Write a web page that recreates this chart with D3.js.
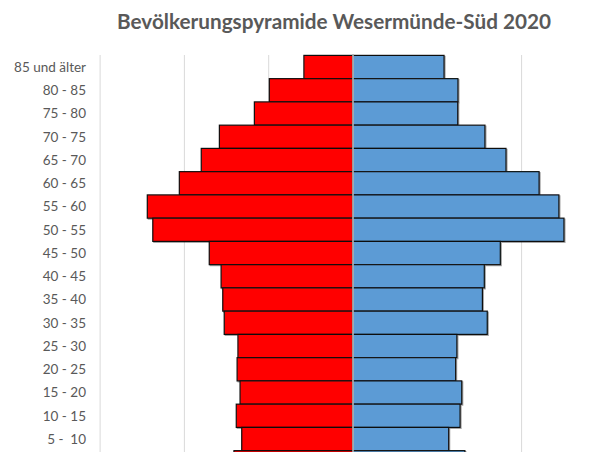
<!DOCTYPE html>
<html>
<head>
<meta charset="utf-8">
<script src="https://cdn.jsdelivr.net/npm/d3@7"></script>
<style>
  body { margin: 0; background: #fff; }
  svg { display: block; }
  .tick text { white-space: pre; }
</style>
</head>
<body>
<svg id="chart" width="601" height="452"></svg>
<script>
var ageGroups = ["85 und älter", "80 - 85", "75 - 80", "70 - 75", "65 - 70", "60 - 65",
                 "55 - 60", "50 - 55", "45 - 50", "40 - 45", "35 - 40", "30 - 35",
                 "25 - 30", "20 - 25", "15 - 20", "10 - 15", "5 -  10", "0 - 5"];
var maleValues   = [233, 397, 468, 634, 720, 824, 976, 950, 682, 626, 618, 611, 546, 550, 536, 554, 528, 565];
var femaleValues = [432, 498, 497, 626, 726, 883, 977, 1001, 699, 623, 614, 637, 493, 487, 516, 508, 454, 531];
var gridTicks = [-1200, -800, -400, 0, 400, 800, 1200];

var svg = d3.select("#chart"),
    width = +svg.attr("width"),
    height = +svg.attr("height");

var x = d3.scaleLinear().domain([-1200, 1200]).range([100.1, 605.9]);
var y = d3.scaleBand().domain(ageGroups).range([55.4, 55.4 + 23.25 * ageGroups.length]).padding(0);

var defs = svg.append("defs");
defs.append("filter")
    .attr("id", "shadow")
    .attr("x", "-5%").attr("y", "-20%").attr("width", "110%").attr("height", "140%")
  .append("feDropShadow")
    .attr("dx", 1).attr("dy", 1).attr("stdDeviation", 0.6)
    .attr("flood-color", "#000").attr("flood-opacity", 0.35);

// title
var title = svg.append("text")
   .attr("x", 334)
   .attr("y", 29)
   .attr("text-anchor", "middle")
   .attr("font-family", "Lato, 'Open Sans', sans-serif")
   .attr("font-weight", "bold")
   .attr("font-size", "20px")
   .attr("fill", "#595959")
   .text("Bevölkerungspyramide Wesermünde-Süd 2020");
var tw = title.node().getComputedTextLength();
title.attr("font-size", (20 * 434 / tw).toFixed(2) + "px");

// gridlines
svg.append("g")
   .selectAll("line")
   .data(gridTicks)
   .enter().append("line")
   .attr("x1", function(d) { return x(d); })
   .attr("x2", function(d) { return x(d); })
   .attr("y1", 55)
   .attr("y2", height)
   .attr("stroke", "#d9d9d9")
   .attr("stroke-width", 1);

var bars = svg.append("g").attr("filter", "url(#shadow)");

bars.selectAll(".male")
    .data(maleValues)
    .enter().append("rect")
    .attr("class", "male")
    .attr("x", function(d) { return x(-d); })
    .attr("y", function(d, i) { return y(ageGroups[i]); })
    .attr("width", function(d) { return x(0) - x(-d); })
    .attr("height", y.bandwidth())
    .attr("fill", "#ff0000")
    .attr("stroke", "#111")
    .attr("stroke-width", 1.2);

bars.selectAll(".female")
    .data(femaleValues)
    .enter().append("rect")
    .attr("class", "female")
    .attr("x", x(0))
    .attr("y", function(d, i) { return y(ageGroups[i]); })
    .attr("width", function(d) { return x(d) - x(0); })
    .attr("height", y.bandwidth())
    .attr("fill", "#5b9bd5")
    .attr("stroke", "#111")
    .attr("stroke-width", 1.2);

// center axis line
svg.append("line")
   .attr("x1", x(0)).attr("x2", x(0))
   .attr("y1", 55).attr("y2", height)
   .attr("stroke", "#eeeeee")
   .attr("stroke-width", 1.2);

// category labels (the last row is cut off by the frame, so no label for it)
var yAxis = d3.axisLeft(y)
    .tickValues(ageGroups.slice(0, ageGroups.length - 1))
    .tickSize(0).tickPadding(0);
var gy = svg.append("g")
   .attr("transform", "translate(86,0)")
   .call(yAxis);
gy.select(".domain").remove();
gy.selectAll("text")
  .attr("font-family", "Lato, 'Open Sans', sans-serif")
  .attr("font-size", "13.5px")
  .attr("fill", "#595959")
  .attr("dy", "0.35em");
</script>
</body>
</html>
